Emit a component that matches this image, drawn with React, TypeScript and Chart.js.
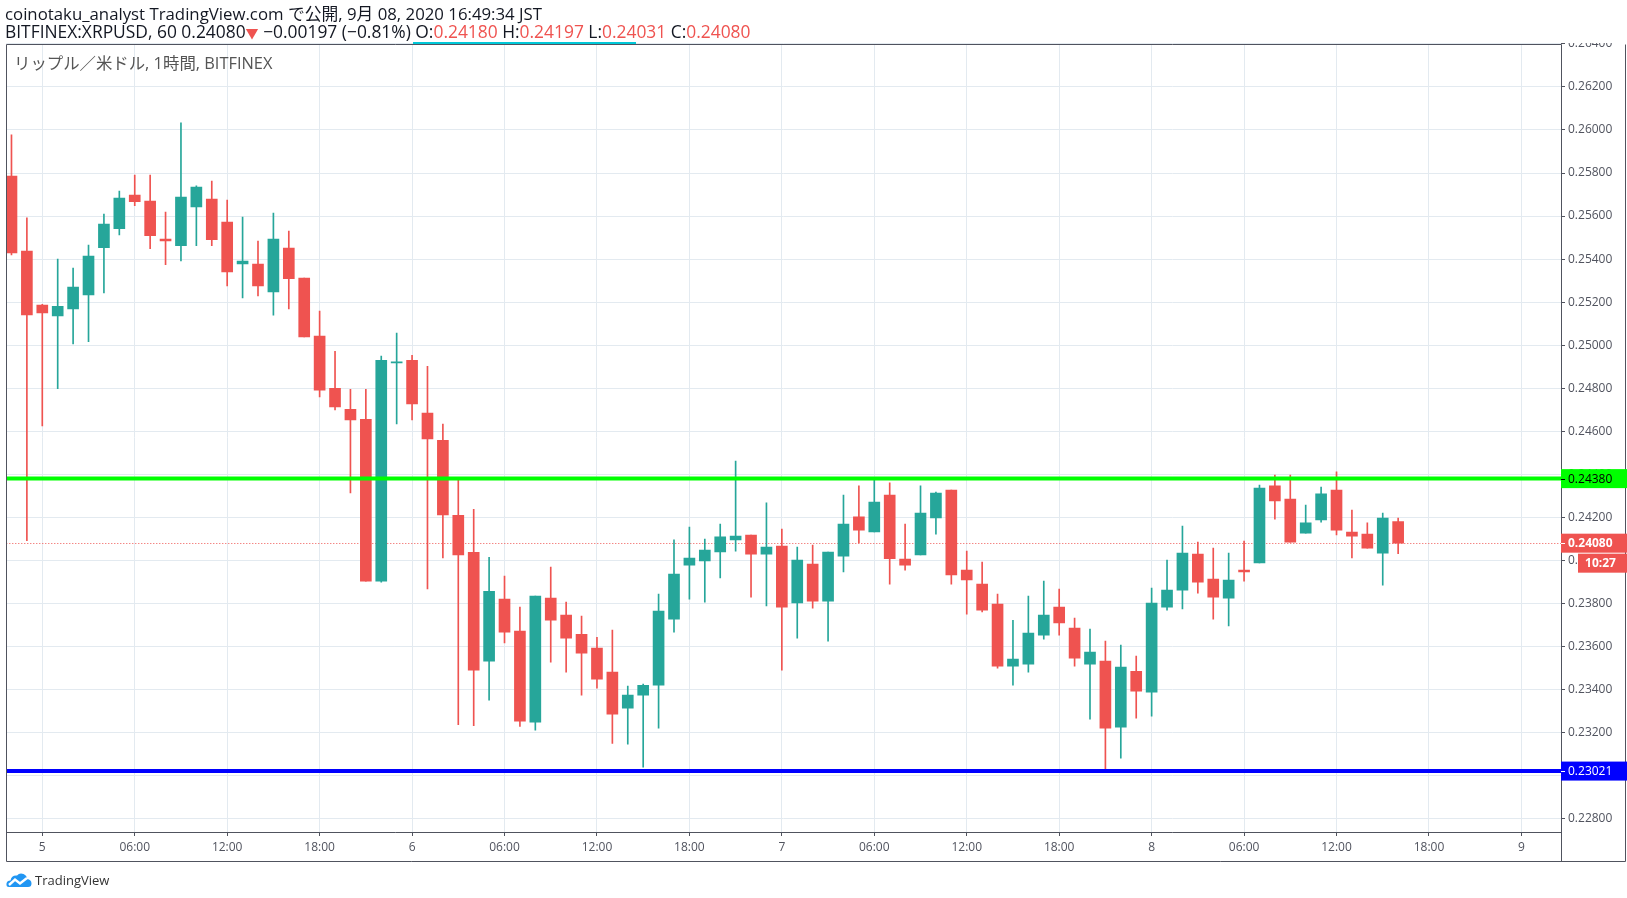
import React, { useEffect, useRef } from "react";
import { Chart, registerables } from "chart.js";

Chart.register(...registerables);

// ---- data (hourly candles, BITFINEX:XRPUSD) ----
// x = hours relative to Sep 5 00:00 JST; first candle is Sep 4 22:00
const firstCandleHour = -2;
const opens = [
  0.25786, 0.25437, 0.25186, 0.25136, 0.25169, 0.25234, 0.25453, 0.25541, 0.25698, 0.25670,
  0.25493, 0.25462, 0.25643, 0.25679, 0.25572, 0.25378, 0.25377, 0.25248, 0.25451, 0.25312,
  0.25042, 0.24800, 0.24702, 0.24656, 0.23904, 0.24918, 0.24930, 0.24684, 0.24558, 0.24209,
  0.24037, 0.23532, 0.23820, 0.23671, 0.23248, 0.23825, 0.23746, 0.23657, 0.23592, 0.23481,
  0.23313, 0.23374, 0.23420, 0.23727, 0.23978, 0.23997, 0.24039, 0.24095, 0.24118, 0.24029,
  0.24067, 0.23802, 0.23983, 0.23811, 0.24020, 0.24202, 0.24132, 0.24304, 0.24006, 0.24025,
  0.24197, 0.24327, 0.23955, 0.23890, 0.23797, 0.23509, 0.23518, 0.23653, 0.23783, 0.23685,
  0.23518, 0.23532, 0.23225, 0.23485, 0.23388, 0.23783, 0.23862, 0.24029, 0.23913, 0.23825,
  0.23955, 0.23988, 0.24346, 0.24285, 0.24127, 0.24188, 0.24327, 0.24132, 0.24122, 0.24034,
  0.24180,
];
const highs = [
  0.25977, 0.25592, 0.25190, 0.25400, 0.25358, 0.25465, 0.25609, 0.25716, 0.25791, 0.25791,
  0.25619, 0.26033, 0.25740, 0.25763, 0.25674, 0.25595, 0.25484, 0.25614, 0.25530, 0.25312,
  0.25158, 0.24972, 0.24795, 0.24795, 0.24949, 0.25056, 0.24953, 0.24902, 0.24633, 0.24372,
  0.24237, 0.24014, 0.23927, 0.23783, 0.23834, 0.23969, 0.23806, 0.23741, 0.23643, 0.23676,
  0.23416, 0.23425, 0.23843, 0.24095, 0.24155, 0.24099, 0.24169, 0.24462, 0.24118, 0.24267,
  0.24146, 0.24062, 0.24071, 0.24039, 0.24304, 0.24346, 0.24378, 0.24360, 0.24169, 0.24346,
  0.24318, 0.24327, 0.24043, 0.23992, 0.23843, 0.23722, 0.23834, 0.23904, 0.23867, 0.23732,
  0.23681, 0.23625, 0.23606, 0.23555, 0.23871, 0.24002, 0.24160, 0.24085, 0.24057, 0.24034,
  0.24090, 0.24350, 0.24397, 0.24397, 0.24257, 0.24341, 0.24411, 0.24234, 0.24174, 0.24220,
  0.24197,
];
const lows = [
  0.25420, 0.24092, 0.24625, 0.24798, 0.25006, 0.25016, 0.25243, 0.25512, 0.25648, 0.25448,
  0.25374, 0.25392, 0.25462, 0.25462, 0.25276, 0.25220, 0.25229, 0.25140, 0.25169, 0.25039,
  0.24760, 0.24699, 0.24313, 0.23904, 0.23899, 0.24634, 0.24653, 0.23867, 0.24011, 0.23237,
  0.23232, 0.23350, 0.23616, 0.23229, 0.23211, 0.23527, 0.23481, 0.23374, 0.23406, 0.23150,
  0.23146, 0.23039, 0.23220, 0.23667, 0.23820, 0.23806, 0.23918, 0.24043, 0.23829, 0.23788,
  0.23490, 0.23639, 0.23778, 0.23625, 0.23946, 0.24081, 0.24132, 0.23890, 0.23955, 0.24025,
  0.24122, 0.23890, 0.23750, 0.23760, 0.23499, 0.23420, 0.23481, 0.23634, 0.23653, 0.23509,
  0.23262, 0.23021, 0.23081, 0.23267, 0.23276, 0.23769, 0.23774, 0.23848, 0.23727, 0.23695,
  0.23904, 0.23988, 0.24192, 0.24085, 0.24127, 0.24178, 0.24118, 0.24011, 0.24057, 0.23885,
  0.24031,
];
const closes = [
  0.25429, 0.25141, 0.25150, 0.25181, 0.25270, 0.25414, 0.25563, 0.25684, 0.25667, 0.25509,
  0.25485, 0.25688, 0.25735, 0.25490, 0.25341, 0.25391, 0.25276, 0.25493, 0.25309, 0.25039,
  0.24791, 0.24713, 0.24653, 0.23904, 0.24930, 0.24920, 0.24727, 0.24564, 0.24211, 0.24025,
  0.23490, 0.23856, 0.23667, 0.23253, 0.23834, 0.23722, 0.23639, 0.23569, 0.23448, 0.23285,
  0.23374, 0.23420, 0.23764, 0.23936, 0.24011, 0.24048, 0.24109, 0.24113, 0.24029, 0.24062,
  0.23783, 0.24002, 0.23811, 0.24039, 0.24169, 0.24141, 0.24271, 0.24008, 0.23978, 0.24220,
  0.24313, 0.23932, 0.23909, 0.23769, 0.23509, 0.23541, 0.23662, 0.23746, 0.23709, 0.23546,
  0.23574, 0.23220, 0.23504, 0.23392, 0.23802, 0.23862, 0.24034, 0.23899, 0.23829, 0.23909,
  0.23946, 0.24336, 0.24276, 0.24085, 0.24174, 0.24309, 0.24141, 0.24113, 0.24057, 0.24197,
  0.24080,
];

const xTickValues = [0, 6, 12, 18, 24, 30, 36, 42, 48, 54, 60, 66, 72, 78, 84, 90, 96];
const xTickLabels = ["5", "06:00", "12:00", "18:00", "6", "06:00", "12:00", "18:00", "7", "06:00", "12:00", "18:00", "8", "06:00", "12:00", "18:00", "9"];
const yTickValues = [0.228, 0.23, 0.232, 0.234, 0.236, 0.238, 0.24, 0.242, 0.244, 0.246, 0.248, 0.25, 0.252, 0.254, 0.256, 0.258, 0.26, 0.262, 0.264];

const xMin = -2.336;
const xMax = 98.57;
const yMin = 0.227379;
const yMax = 0.264019;

const resistanceLevel = 0.2438;
const supportLevel = 0.23021;
const lastPrice = 0.2408;
const countdownLabel = "10:27";

const headerLine1 = "coinotaku_analyst TradingView.com で公開, 9月 08, 2020 16:49:34 JST";
const symbolText = "BITFINEX:XRPUSD, 60 0.24080";
const changeText = " −0.00197 (−0.81%) ";
const legendText = "リップル／米ドル, 1時間, BITFINEX";

const UP = "#26a69a";
const DOWN = "#ef5350";
const GRID = "#e3eaf0";
const BORDER = "#50535e";
const TEXT = "#50535e";
const FONT = '"Open Sans", "Noto Sans CJK JP", sans-serif';

const overlayPlugin = {
  id: "tvOverlay",
  beforeDatasetsDraw(chart: any) {
    const { ctx, chartArea, scales } = chart;
    const y = Math.round(scales.y.getPixelForValue(lastPrice)) + 0.5;
    ctx.save();
    ctx.strokeStyle = DOWN;
    ctx.lineWidth = 1;
    ctx.setLineDash([1, 2]);
    ctx.beginPath();
    ctx.moveTo(chartArea.left, y);
    ctx.lineTo(chartArea.right, y);
    ctx.stroke();
    ctx.restore();
  },
  afterDatasetsDraw(chart: any) {
    const { ctx, chartArea, scales } = chart;
    ctx.save();
    ctx.lineWidth = 4;
    const lines: [number, string][] = [
      [resistanceLevel, "#00ff00"],
      [supportLevel, "#0000ff"],
    ];
    for (const [v, c] of lines) {
      const y = scales.y.getPixelForValue(v);
      ctx.strokeStyle = c;
      ctx.beginPath();
      ctx.moveTo(chartArea.left, y);
      ctx.lineTo(chartArea.right, y);
      ctx.stroke();
    }
    ctx.restore();
  },
  afterDraw(chart: any) {
    const { ctx, chartArea, scales, width } = chart;
    const xAxisBottom = scales.x.bottom;
    const rightEdge = width - 2;
    ctx.save();
    // frame
    ctx.strokeStyle = BORDER;
    ctx.lineWidth = 1;
    ctx.beginPath();
    const L = Math.round(chartArea.left) + 0.5;
    const T = Math.round(chartArea.top) + 0.5;
    const R = Math.round(chartArea.right) + 0.5;
    const B = Math.round(chartArea.bottom) + 0.5;
    const XB = Math.round(xAxisBottom) + 0.5;
    const RE = Math.round(rightEdge) + 0.5;
    ctx.moveTo(L, T); ctx.lineTo(R, T);
    ctx.moveTo(L, T); ctx.lineTo(L, XB);
    ctx.moveTo(L, B); ctx.lineTo(R, B);
    ctx.moveTo(R, T); ctx.lineTo(R, XB);
    ctx.moveTo(L, XB); ctx.lineTo(RE, XB);
    ctx.moveTo(RE, T); ctx.lineTo(RE, XB);
    ctx.stroke();

    // axis label boxes
    const boxes: [number, string, string, boolean][] = [
      [resistanceLevel, "#00ff00", "#000000", false],
      [supportLevel, "#0000ff", "#ffffff", false],
      [lastPrice, DOWN, "#ffffff", true],
    ];
    const bh = 19;
    for (const [v, bg, fg, bold] of boxes) {
      const y = scales.y.getPixelForValue(v);
      ctx.fillStyle = bg;
      ctx.fillRect(chartArea.right, y - bh / 2, width - chartArea.right, bh);
      ctx.strokeStyle = fg;
      ctx.beginPath();
      ctx.moveTo(chartArea.right, Math.round(y) + 0.5);
      ctx.lineTo(chartArea.right + 4, Math.round(y) + 0.5);
      ctx.stroke();
      ctx.fillStyle = fg;
      ctx.font = `${bold ? "bold " : ""}12px ${FONT}`;
      ctx.textBaseline = "middle";
      ctx.textAlign = "left";
      ctx.fillText(v.toFixed(5), chartArea.right + 7, y + 0.5);
    }
    // countdown box
    const yc = scales.y.getPixelForValue(lastPrice) + bh + 1;
    ctx.fillStyle = DOWN;
    ctx.fillRect(chartArea.right + 17, yc - bh / 2, width - chartArea.right - 17, bh);
    ctx.fillStyle = "#ffffff";
    ctx.font = `bold 12px ${FONT}`;
    ctx.textAlign = "center";
    ctx.textBaseline = "middle";
    ctx.fillText(countdownLabel, chartArea.right + 17 + (width - chartArea.right - 17) / 2 - 2, yc + 0.5);
    ctx.restore();
  },
};

export default function App() {
  const ref = useRef<HTMLCanvasElement>(null);

  useEffect(() => {
    const canvas = ref.current;
    if (!canvas) return;
    const xs = opens.map((_, i) => firstCandleHour + i);
    const colors = opens.map((o, i) => (closes[i] >= o ? UP : DOWN));
    const bodies = opens.map((o, i) => ({ x: xs[i], y: [o, closes[i]] }));
    const wicks = opens.map((_, i) => ({ x: xs[i], y: [lows[i], highs[i]] }));

    const chart = new Chart(canvas, {
      type: "bar",
      data: {
        datasets: [
          {
            label: "body",
            data: bodies as any,
            backgroundColor: colors,
            borderWidth: 0,
            barThickness: 11,
            minBarLength: 1,
            grouped: false,
            order: 0,
          } as any,
          {
            label: "wick",
            data: wicks as any,
            backgroundColor: colors,
            borderWidth: 0,
            barThickness: 1,
            grouped: false,
            order: 1,
          } as any,
        ],
      },
      options: {
        animation: false,
        responsive: true,
        maintainAspectRatio: false,
        layout: { padding: { top: 43.5, left: 6.3, right: 2, bottom: 37 } },
        plugins: { legend: { display: false }, tooltip: { enabled: false }, title: { display: false } },
        scales: {
          x: {
            type: "linear",
            min: xMin,
            max: xMax,
            offset: false,
            border: { display: false },
            grid: { color: GRID, offset: false, drawTicks: true, tickLength: 4, tickColor: BORDER },
            afterBuildTicks: (s: any) => {
              s.ticks = xTickValues.map((v) => ({ value: v }));
            },
            afterFit: (s: any) => {
              s.height = 29;
            },
            ticks: {
              autoSkip: false,
              maxRotation: 0,
              padding: 4,
              color: TEXT,
              font: { family: FONT, size: 12 },
              callback: (v: any) => xTickLabels[xTickValues.indexOf(Number(v))] ?? "",
            },
          },
          y: {
            type: "linear",
            position: "right",
            min: yMin,
            max: yMax,
            border: { display: false },
            grid: { color: GRID, drawTicks: true, tickLength: 4, tickColor: BORDER },
            afterBuildTicks: (s: any) => {
              s.ticks = yTickValues.map((v) => ({ value: v }));
            },
            afterFit: (s: any) => {
              s.width = 64;
            },
            ticks: {
              autoSkip: false,
              padding: 3,
              color: TEXT,
              font: { family: FONT, size: 12 },
              callback: (v: any) => Number(v).toFixed(5),
            },
          },
        },
      },
      plugins: [overlayPlugin],
    } as any);
    return () => chart.destroy();
  }, []);

  const red = { color: DOWN };
  return (
    <div style={{ position: "absolute", left: 0, top: 0, width: 1627, height: 898, background: "#fff", overflow: "hidden" }}>
      <canvas ref={ref} />
      <div
        style={{
          position: "absolute",
          left: 5,
          top: 5,
          fontFamily: FONT,
          fontSize: 16.8,
          lineHeight: "17.8px",
          color: "#131722",
          whiteSpace: "nowrap",
        }}
      >
        <div>{headerLine1}</div>
        <div style={{ fontSize: 17.4 }}>
          {symbolText}
          <span style={{ ...red, fontSize: 13 }}>▼</span>
          {changeText}O:<span style={red}>{opens[opens.length - 1].toFixed(5)}</span> H:
          <span style={red}>{highs[highs.length - 1].toFixed(5)}</span> L:
          <span style={red}>{lows[lows.length - 1].toFixed(5)}</span> C:
          <span style={red}>{closes[closes.length - 1].toFixed(5)}</span>
        </div>
      </div>
      <div style={{ position: "absolute", left: 413, top: 42, width: 223, height: 2, background: "#00c8d8" }} />
      <div style={{ position: "absolute", left: 1562, top: 0, width: 65, height: 43, background: "#fff" }} />
      <div
        style={{
          position: "absolute",
          left: 14,
          top: 53,
          fontFamily: FONT,
          fontSize: 16.4,
          lineHeight: "20px",
          color: "#555",
          whiteSpace: "nowrap",
        }}
      >
        {legendText}
      </div>
      <div style={{ position: "absolute", left: 6, top: 871, display: "flex", alignItems: "center", gap: 3 }}>
        <svg width="26" height="16" viewBox="0 0 26 16">
          <path d="M3 15 Q0 15 0.5 11.5 Q1 8.5 4.5 8.5 Q5.5 3 11 3.5 Q13.5 0.5 17.5 2 Q21 3.5 21 7 Q25.5 7.5 25.5 11.5 Q25.5 15 22 15 Z" fill="#2196f3" />
          <polyline points="3,13 9,7.5 14,11.5 21,6" fill="none" stroke="#fff" strokeWidth="2.4" />
        </svg>
        <span style={{ fontFamily: FONT, fontSize: 13, color: "#333", lineHeight: "18px" }}>TradingView</span>
      </div>
    </div>
  );
}
